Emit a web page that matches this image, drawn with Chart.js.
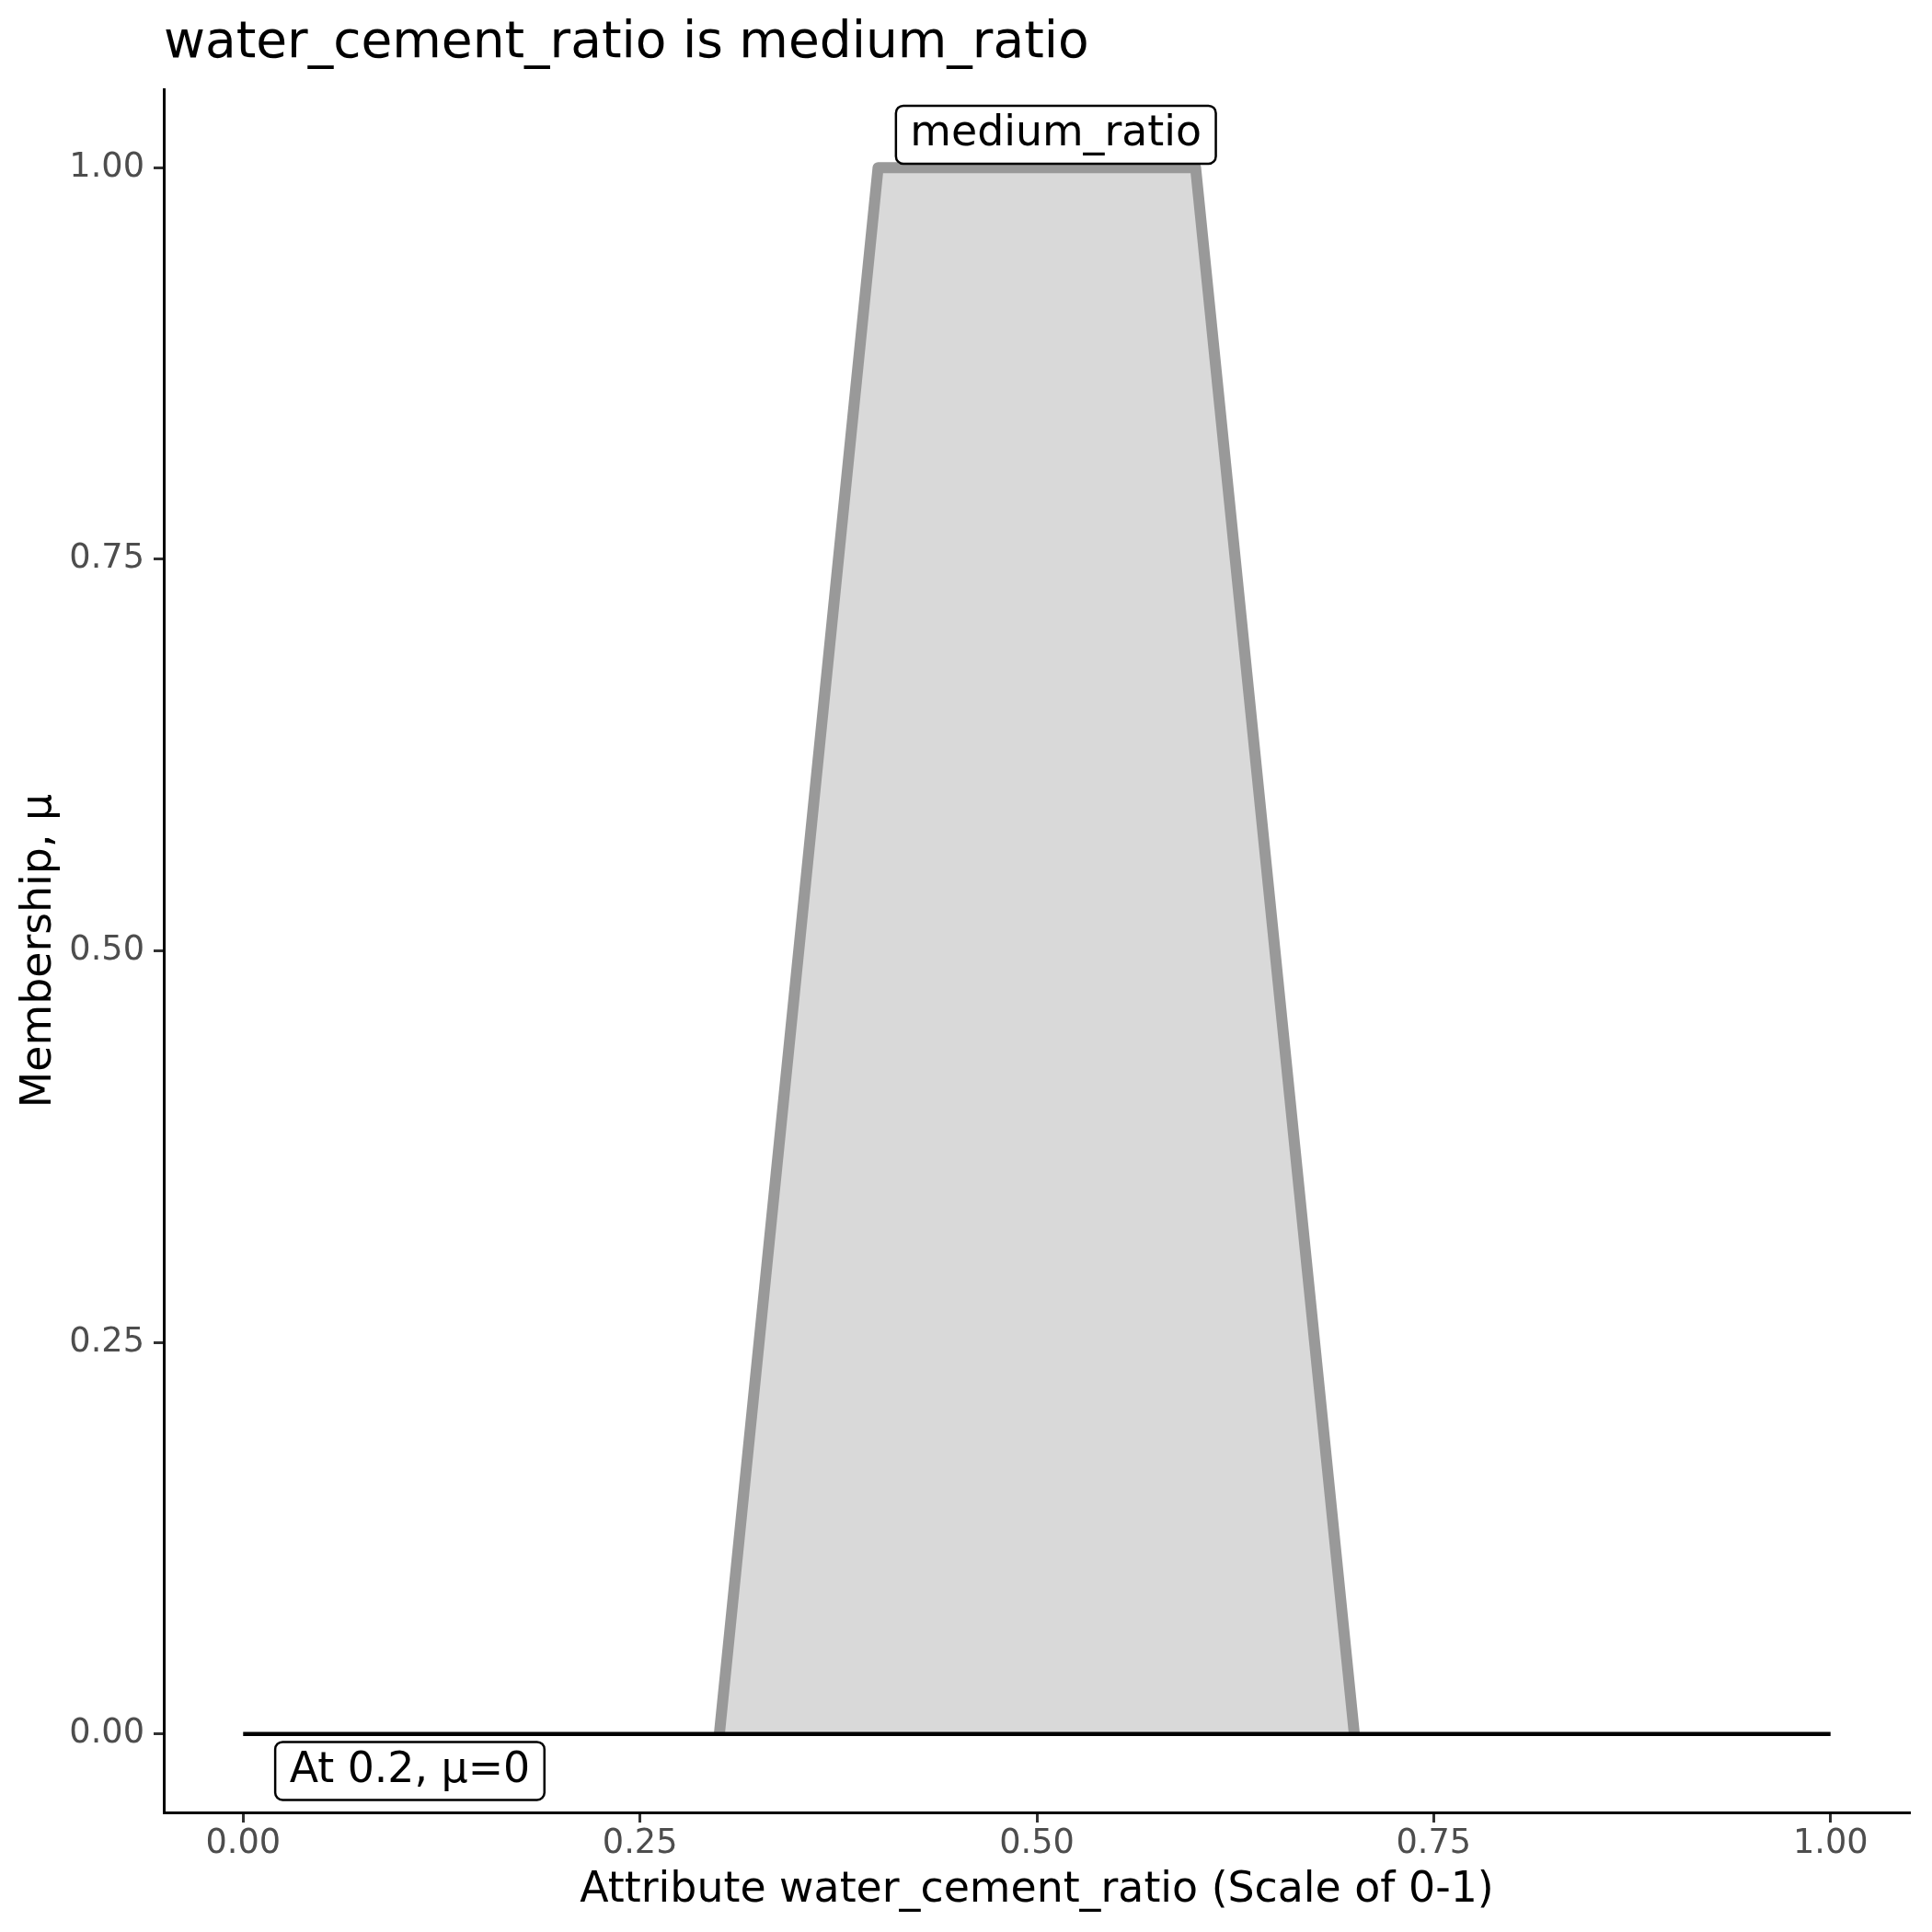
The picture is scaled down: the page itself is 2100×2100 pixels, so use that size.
<!DOCTYPE html>
<html>
<head>
<meta charset="utf-8">
<script src="https://cdn.jsdelivr.net/npm/chart.js@4.4.1/dist/chart.umd.min.js"></script>
<style>
  html, body { margin: 0; padding: 0; background: #fff; }
  canvas { display: block; }
</style>
</head>
<body>
<canvas id="chart" width="2100" height="2100"></canvas>
<script>
// data
const xTicks = [0, 0.25, 0.5, 0.75, 1];
const yTicks = [0, 0.25, 0.5, 0.75, 1];
const shapeX = [0.3, 0.4, 0.6, 0.7];
const shapeY = [0, 1, 1, 0];
const baseX = [0, 1];
const baseY = [0, 0];
const labelText = ['medium_ratio', 'At 0.2, \u03bc=0'];
const labelX = [0.512, 0.105];
const labelY = [1.021, -0.0235];

const titleText = 'water_cement_ratio is medium_ratio';
const xTitle = 'Attribute water_cement_ratio (Scale of 0-1)';
const yTitle = 'Membership, \u03bc';

const FONT = '"DejaVu Sans", sans-serif';

const toPts = (xs, ys) => xs.map((x, i) => ({ x, y: ys[i] }));

// title + boxed labels
const annotate = {
  id: 'annotate',
  afterDraw(chart) {
    const { ctx, chartArea, scales } = chart;
    ctx.save();
    ctx.font = `55px ${FONT}`;
    ctx.fillStyle = '#000';
    ctx.textAlign = 'left';
    ctx.textBaseline = 'alphabetic';
    ctx.fillText(titleText, chartArea.left, 62);

    ctx.font = `45.8px ${FONT}`;
    labelText.forEach((t, i) => {
      const cx = scales.x.getPixelForValue(labelX[i]);
      const cy = scales.y.getPixelForValue(labelY[i]);
      const w = ctx.measureText(t).width + 31;
      const h = 63;
      ctx.beginPath();
      ctx.roundRect(cx - w / 2, cy - h / 2, w, h, 8);
      ctx.fillStyle = '#fff';
      ctx.fill();
      ctx.lineWidth = 2.5;
      ctx.strokeStyle = '#000';
      ctx.stroke();
      ctx.fillStyle = '#000';
      ctx.textAlign = 'center';
      ctx.textBaseline = 'middle';
      ctx.fillText(t, cx, cy);
    });
    ctx.restore();
  }
};

new Chart(document.getElementById('chart'), {
  type: 'line',
  data: {
    datasets: [
      {
        data: toPts(baseX, baseY),
        borderColor: '#000',
        borderWidth: 4.5,
        pointRadius: 0,
        fill: false
      },
      {
        data: toPts(shapeX, shapeY),
        borderColor: '#999999',
        backgroundColor: '#D9D9D9',
        borderWidth: 12,
        borderJoinStyle: 'round',
        borderCapStyle: 'butt',
        pointRadius: 0,
        fill: 'origin'
      }
    ]
  },
  options: {
    responsive: false,
    animation: false,
    layout: { padding: { top: 97, right: 24, left: 0, bottom: 0 } },
    plugins: {
      legend: { display: false },
      tooltip: { enabled: false },
      title: { display: false }
    },
    scales: {
      x: {
        type: 'linear',
        min: -0.05,
        max: 1.05,
        afterFit: s => { s.height = 130; },
        afterBuildTicks: s => { s.ticks = xTicks.map(v => ({ value: v })); },
        grid: { drawOnChartArea: false, drawTicks: true, tickLength: 11, tickWidth: 3, tickColor: '#333333' },
        border: { display: true, color: '#000', width: 3 },
        ticks: {
          padding: 1,
          color: '#4D4D4D',
          font: { family: FONT, size: 36.7 },
          maxRotation: 0,
          callback: v => v.toFixed(2)
        },
        title: {
          display: true,
          text: xTitle,
          color: '#000',
          font: { family: FONT, size: 45.8 },
          padding: { top: 0, bottom: 17 }
        }
      },
      y: {
        type: 'linear',
        min: -0.05,
        max: 1.05,
        afterFit: s => { s.width = 178; },
        afterBuildTicks: s => { s.ticks = yTicks.map(v => ({ value: v })); },
        grid: { drawOnChartArea: false, drawTicks: true, tickLength: 11, tickWidth: 3, tickColor: '#333333' },
        border: { display: true, color: '#000', width: 3 },
        ticks: {
          padding: 10,
          color: '#4D4D4D',
          font: { family: FONT, size: 36.7 },
          callback: v => v.toFixed(2)
        },
        title: {
          display: true,
          text: yTitle,
          color: '#000',
          font: { family: FONT, size: 45.8 },
          padding: { top: 16, bottom: 0 }
        }
      }
    }
  },
  plugins: [annotate]
});
</script>
</body>
</html>
